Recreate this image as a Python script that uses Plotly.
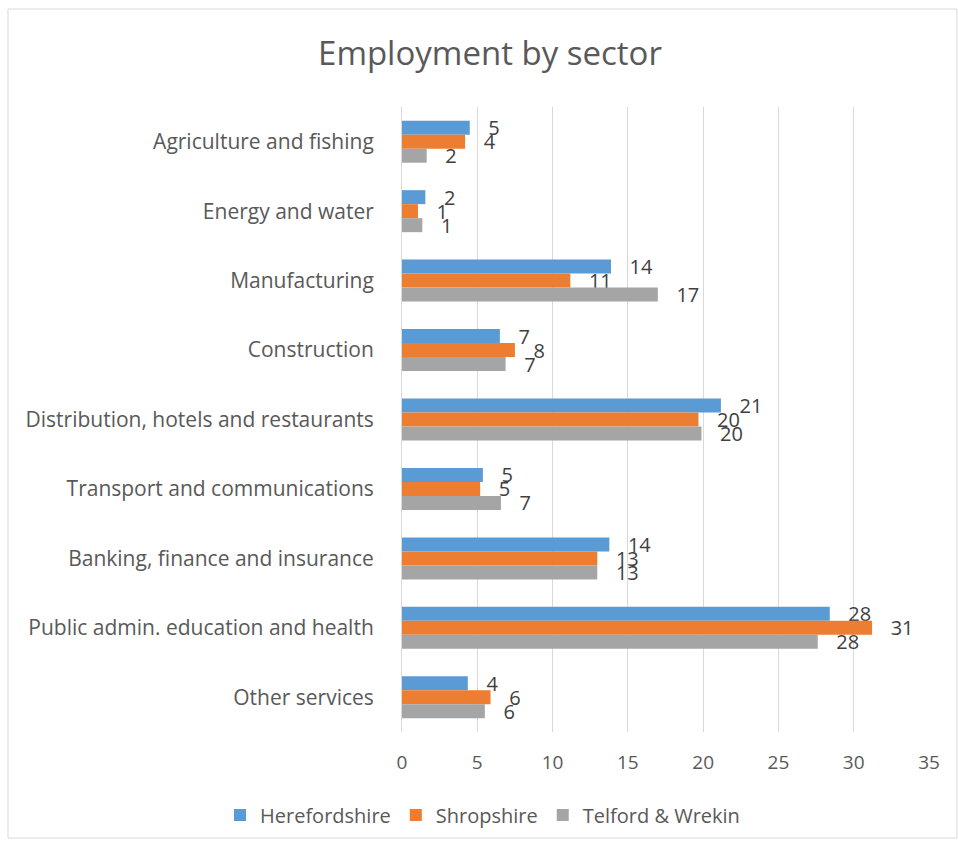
import plotly.graph_objects as go

categories = [
    "Agriculture and fishing",
    "Energy and water",
    "Manufacturing",
    "Construction",
    "Distribution, hotels and restaurants",
    "Transport and communications",
    "Banking, finance and insurance",
    "Public admin. education and health",
    "Other services",
]
herefordshire = [4.5, 1.55, 13.88, 6.5, 21.18, 5.37, 13.77, 28.41, 4.37]
shropshire = [4.19, 1.06, 11.18, 7.5, 19.69, 5.19, 12.97, 31.22, 5.88]
telford = [1.64, 1.35, 16.99, 6.88, 19.89, 6.57, 12.97, 27.61, 5.5]
series_names = ["Herefordshire", "Shropshire", "Telford & Wrekin"]
colors = ["#5B9BD5", "#ED7D31", "#A5A5A5"]
x_ticks = [0, 5, 10, 15, 20, 25, 30, 35]

FONT = "Open Sans"
TXT = "#595959"

fig = go.Figure()
for name, vals, col in zip(series_names, [herefordshire, shropshire, telford], colors):
    fig.add_trace(go.Bar(
        y=categories, x=vals, name=name, orientation="h",
        marker=dict(color=col, line=dict(width=0)),
        texttemplate="\u00a0\u00a0\u00a0%{x:.0f}",
        textposition="outside", constraintext="none", cliponaxis=False,
        textfont=dict(family=FONT, size=20, color="#404040"),
        hoverinfo="x+y+name",
    ))

W, H = 958, 851
L, R, T, B = 402, 29, 107, 119
ph = H - T - B
pw = W - L - R

fig.update_layout(
    width=W, height=H,
    margin=dict(l=L, r=R, t=T, b=B, pad=0, autoexpand=False),
    paper_bgcolor="white", plot_bgcolor="white",
    barmode="group", bargap=0.395, bargroupgap=0,
    title=dict(text="Employment by sector", x=490 / W, xanchor="center",
               y=1 - 53 / H, yanchor="middle", xref="container", yref="container",
               font=dict(family=FONT, size=33, color=TXT)),
    font=dict(family=FONT, color=TXT),
    showlegend=True,
    legend=dict(orientation="h", xref="container", yref="container",
                x=220 / W, xanchor="left", y=1 - 815 / H, yanchor="middle",
                font=dict(family=FONT, size=20, color=TXT),
                itemwidth=30, traceorder="normal"),
    xaxis=dict(range=[0, 35], tickvals=x_ticks, showgrid=True, gridcolor="#D9D9D9",
               gridwidth=1, zeroline=False, showline=False,
               tickfont=dict(family=FONT, size=19, color=TXT), ticklabelstandoff=17),
    yaxis=dict(autorange="reversed", showgrid=False, zeroline=False,
               showline=True, linecolor="#D9D9D9", linewidth=1,
               tickfont=dict(family=FONT, size=21, color=TXT), ticklabelstandoff=23),
    shapes=[dict(type="rect", xref="paper", yref="paper",
                 x0=(8 - L) / pw, x1=(957 - L) / pw,
                 y0=(H - T - 850) / ph, y1=(H - B - 9) / ph,
                 line=dict(color="#D9D9D9", width=1), layer="below")],
)

fig.write_html("out.html")
